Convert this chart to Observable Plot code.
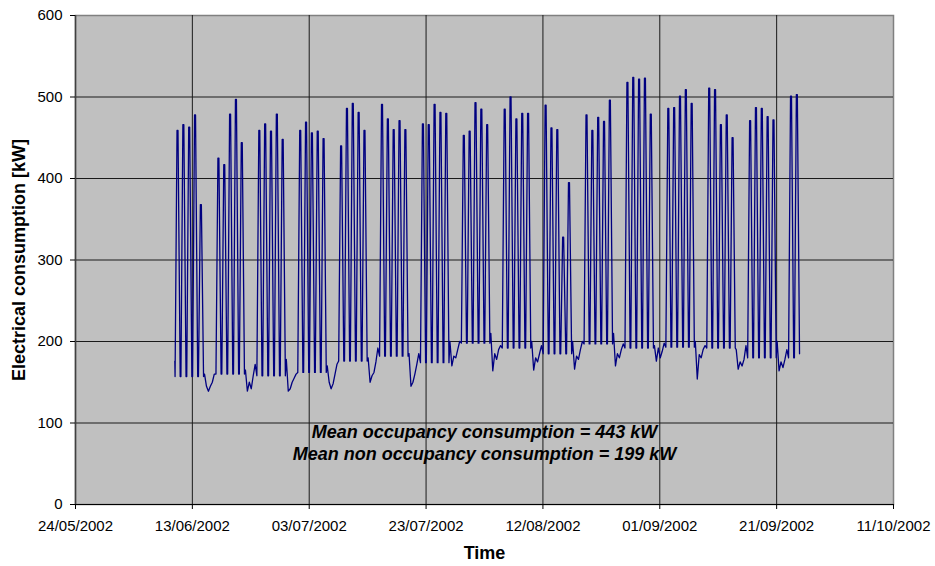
<!DOCTYPE html>
<html>
<head>
<meta charset="utf-8">
<script src="https://cdn.jsdelivr.net/npm/d3@7"></script>
<script src="https://cdn.jsdelivr.net/npm/@observablehq/plot@0.6"></script>
<style>
  body { margin: 0; background: #fff; }
  #chart svg { display: block; }
</style>
</head>
<body>
<div id="chart"></div>
<script>
// ---- Data (kW) ----
const weekStarts = ["2002-06-10","2002-06-17","2002-06-24","2002-07-01","2002-07-08","2002-07-15",
  "2002-07-22","2002-07-29","2002-08-05","2002-08-12","2002-08-19","2002-08-26",
  "2002-09-02","2002-09-09","2002-09-16","2002-09-23"];

// daytime peak of each weekday (Mon..Fri)
const weekdayPeaks = [
  [459, 466, 463, 478, 368],
  [425, 417, 479, 497, 444],
  [459, 467, 458, 479, 448],
  [459, 469, 456, 458, 449],
  [440, 486, 492, 481, 459],
  [491, 473, 460, 471, 460],
  [467, 466, 491, 481, 480],
  [453, 458, 493, 485, 466],
  [485, 500, 473, 480, 480],
  [490, 462, 460, 328, 395],
  [478, 459, 475, 470, 496],
  [518, 524, 522, 523, 479],
  [486, 487, 501, 509, 492],
  [511, 509, 466, 478, 450],
  [471, 487, 486, 476, 472],
  [501, 503]
];

// night-time (non occupancy) level on weekdays, per week
const weekdayNightLows = [157, 160, 158, 162, 176, 182, 174, 198, 192, 185, 197, 192, 193, 192, 180, 180];

// weekend loads (Sat 02h, Sat 10h, Sat 18h, Sun 02h, Sun 10h, Sun 18h)
const weekendLoads = [
  [160, 145, 139, 145, 150, 160],
  [165, 139, 150, 142, 158, 172],
  [178, 139, 142, 150, 155, 160],
  [170, 150, 142, 148, 160, 172],
  [180, 150, 158, 162, 175, 192],
  [185, 145, 150, 160, 172, 185],
  [200, 170, 182, 180, 190, 200],
  [210, 164, 185, 178, 190, 195],
  [200, 165, 180, 175, 185, 195],
  [200, 166, 182, 178, 190, 200],
  [210, 170, 185, 180, 190, 197],
  [195, 176, 192, 180, 188, 198],
  [200, 154, 184, 180, 190, 195],
  [190, 166, 175, 170, 178, 195],
  [200, 164, 175, 168, 178, 190]
];
const startLoad = 176;
const endLoad = 185;

// weekday sample hours: night, morning peak, early afternoon, late evening
const weekdayHours = [1, 9, 13, 22];
const weekendHours = [2, 10, 18, 26, 34, 42];

const yTicks = [0, 100, 200, 300, 400, 500, 600];
const xTickDates = ["2002-05-24","2002-06-13","2002-07-03","2002-07-23","2002-08-12","2002-09-01","2002-09-21","2002-10-11"];

const annotationLines = ["Mean occupancy consumption = 443 kW", "Mean non occupancy consumption = 199 kW"];
const yLabel = "Electrical consumption [kW]";
const xLabel = "Time";

// ---- Build the series table ----
const HOUR = 3600 * 1000, DAY = 24 * HOUR;
const series = [];
weekStarts.forEach((ws, i) => {
  const mon = new Date(ws + "T00:00:00Z").getTime();
  const low = weekdayNightLows[i];
  const peaks = weekdayPeaks[i];
  peaks.forEach((p, j) => {
    const day = mon + j * DAY;
    if (i === 0 && j === 0) series.push({t: new Date(day), v: startLoad});
    const isLast = i === weekStarts.length - 1 && j === peaks.length - 1;
    const vals = [low, p, p, isLast ? endLoad : low];
    weekdayHours.forEach((h, k) => series.push({t: new Date(day + h * HOUR), v: vals[k]}));
  });
  if (weekendLoads[i]) {
    const sat = mon + 5 * DAY;
    weekendHours.forEach((h, k) => series.push({t: new Date(sat + h * HOUR), v: weekendLoads[i][k]}));
  }
});

const xTicks = xTickDates.map(d => new Date(d + "T00:00:00Z"));
const fmt = d3.utcFormat("%d/%m/%Y");
const font = "'Liberation Sans', Arial, sans-serif";

const chart = Plot.plot({
  width: 935,
  height: 566,
  marginLeft: 75,
  marginRight: 42,
  marginTop: 15,
  marginBottom: 62,
  style: {background: "#fff", fontFamily: font, fontSize: "15px", color: "#000", overflow: "visible"},
  x: {type: "utc", domain: [xTicks[0], xTicks[xTicks.length - 1]], ticks: xTicks, tickFormat: fmt, label: null},
  y: {domain: [0, 600], ticks: yTicks, label: null},
  marks: [
    Plot.frame({fill: "#C0C0C0", stroke: "#808080", strokeWidth: 1.5}),
    Plot.gridY(yTicks.filter(v => v > 0 && v < 600), {stroke: "#1a1a1a", strokeOpacity: 1, strokeWidth: 1}),
    Plot.gridX(xTicks.slice(1, -1), {stroke: "#1a1a1a", strokeOpacity: 1, strokeWidth: 1}),
    Plot.line(series, {x: "t", y: "v", stroke: "#000080", strokeWidth: 1.3, strokeLinejoin: "round"}),
    Plot.ruleY([0], {stroke: "#000", strokeWidth: 1.2}),
    Plot.ruleX([xTicks[0]], {stroke: "#404040", strokeWidth: 1.5}),
    Plot.axisX({ticks: xTicks, tickFormat: fmt, tickSize: 5, tickPadding: 11, stroke: "#000", fontSize: 15, label: null}),
    Plot.axisY({ticks: yTicks, tickSize: 5, tickPadding: 8, stroke: "#000", fontSize: 15, label: null}),
    Plot.text([yLabel], {frameAnchor: "left", dx: -56, rotate: -90, textAnchor: "middle", text: d => d,
      fontWeight: "bold", fontSize: 18, fill: "#000"}),
    Plot.text([xLabel], {frameAnchor: "bottom", dy: 54, text: d => d,
      fontWeight: "bold", fontSize: 18, fill: "#000"}),
    Plot.text([annotationLines[0]], {frameAnchor: "bottom", dy: -67, text: d => d,
      fontWeight: "bold", fontStyle: "italic", fontSize: 18, fill: "#000"}),
    Plot.text([annotationLines[1]], {frameAnchor: "bottom", dy: -45, text: d => d,
      fontWeight: "bold", fontStyle: "italic", fontSize: 18, fill: "#000"})
  ]
});
document.getElementById("chart").appendChild(chart);
</script>
</body>
</html>
